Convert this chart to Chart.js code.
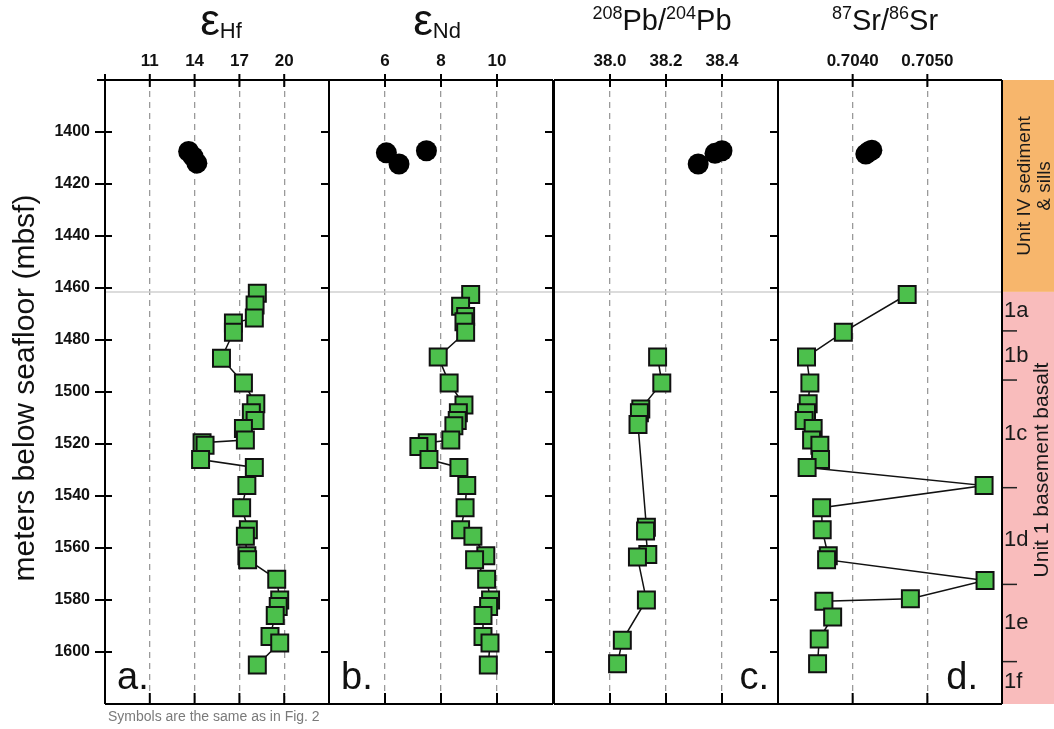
<!DOCTYPE html>
<html>
<head>
<meta charset="utf-8">
<script src="https://cdn.jsdelivr.net/npm/chart.js@4.4.1/dist/chart.umd.min.js"></script>
<style>
  body { margin: 0; background: #fff; }
  #wrap { position: relative; width: 1054px; height: 729px; overflow: hidden; }
  #wrap canvas { position: absolute; left: 0; top: 0; }
</style>
</head>
<body>
<div id="wrap">
  <canvas id="hf" width="1054" height="729"></canvas>
  <canvas id="nd" width="1054" height="729"></canvas>
  <canvas id="pb" width="1054" height="729"></canvas>
  <canvas id="sr" width="1054" height="729"></canvas>
</div>
<script>
// depth axis (mbsf)
const depthMin = 1380, depthMax = 1620;
const depthTicks = [1400, 1420, 1440, 1460, 1480, 1500, 1520, 1540, 1560, 1580, 1600];
const unitBoundary = 1461.5;

// eHf
const hfTicks = [11, 14, 17, 20];
const hfDepth = [1462, 1466.5, 1471.5, 1473.5, 1477, 1487, 1496.5, 1504.5, 1508, 1511, 1514, 1518.5, 1519.5, 1520.5, 1526, 1529, 1536, 1544.5, 1553, 1555.5, 1563, 1564.5, 1572, 1580, 1582.5, 1586, 1594, 1596.5, 1605];
const hfValue = [18.2, 18.05, 18.0, 16.6, 16.6, 15.8, 17.27, 18.1, 17.8, 18.05, 17.27, 17.4, 14.5, 14.7, 14.4, 18.0, 17.5, 17.15, 17.6, 17.4, 17.5, 17.55, 19.5, 19.7, 19.6, 19.4, 19.05, 19.7, 18.2];
const hfSillDepth = [1407.5, 1409.5, 1412];
const hfSillValue = [13.6, 13.9, 14.15];

// eNd
const ndTicks = [6, 8, 10];
const ndDepth = [1462.5, 1467, 1471, 1473, 1477, 1486.5, 1496.5, 1505, 1508, 1511, 1513, 1518.5, 1519.5, 1521, 1526, 1529, 1536, 1544.5, 1553, 1555.5, 1563, 1564.5, 1572, 1580, 1582.5, 1586, 1594, 1596.5, 1605];
const ndValue = [9.06, 8.7, 8.88, 8.82, 8.88, 7.9, 8.29, 8.82, 8.62, 8.58, 8.46, 8.35, 7.51, 7.21, 7.57, 8.64, 8.92, 8.86, 8.7, 9.14, 9.6, 9.2, 9.63, 9.77, 9.7, 9.5, 9.5, 9.75, 9.69];
const ndSillDepth = [1408, 1412.3, 1407.2];
const ndSillValue = [6.05, 6.5, 7.48];

// 208Pb/204Pb
const pbTicks = [38.0, 38.2, 38.4];
const pbTickLabels = ['38.0', '38.2', '38.4'];
const pbDepth = [1486.5, 1496.5, 1506.5, 1508, 1512.5, 1552, 1553.5, 1562.5, 1563.5, 1580, 1595.5, 1604.5];
const pbValue = [38.17, 38.185, 38.11, 38.105, 38.1, 38.13, 38.127, 38.135, 38.098, 38.13, 38.044, 38.027];
const pbSillDepth = [1412.3, 1408.2, 1407.2];
const pbSillValue = [38.315, 38.375, 38.4];

// 87Sr/86Sr
const srTicks = [0.704, 0.705];
const srTickLabels = ['0.7040', '0.7050'];
const srDepth = [1462.5, 1477, 1486.5, 1496.5, 1504.5, 1508, 1511, 1514, 1518.5, 1520.5, 1526, 1529, 1536, 1544.5, 1553, 1563, 1564.5, 1572.5, 1579.5, 1580.5, 1586.5, 1595, 1604.5];
const srValue = [0.70473, 0.703875, 0.703382, 0.703427, 0.703404, 0.703382, 0.70335, 0.703471, 0.70345, 0.703561, 0.70357, 0.70339, 0.70576, 0.703584, 0.703592, 0.703673, 0.703651, 0.705773, 0.704773, 0.703615, 0.703732, 0.703552, 0.70353];
const srSillDepth = [1408.5, 1407.5, 1407];
const srSillValue = [0.704176, 0.70422, 0.704257];

// lithologic units (right strip)
const subunitBounds = [1476.5, 1495.4, 1536.8, 1574, 1603.7];
const subunitLabels = ['1a', '1b', '1c', '1d', '1e', '1f'];
const subunitLabelDepth = [1468.8, 1486, 1516, 1557, 1589, 1611.5];

const FONT = '"Liberation Sans", Arial, Helvetica, sans-serif';
const GREEN = '#4cc04c';
const XAXIS_H = 30, YAXIS_W = 60;

function pts(xs, ys) { return xs.map((d, i) => ({ x: ys[i], y: d })); }

function drawTitle(ctx, cx, base, parts) {
  let w = 0;
  parts.forEach(p => { ctx.font = p.s + 'px ' + FONT; p.w = ctx.measureText(p.t).width; w += p.w; });
  let x = cx - w / 2;
  ctx.fillStyle = '#111';
  ctx.textAlign = 'left';
  ctx.textBaseline = 'alphabetic';
  parts.forEach(p => { ctx.font = p.s + 'px ' + FONT; ctx.fillText(p.t, x, base + p.dy); x += p.w; });
}

function framePlugin(cfg) {
  return {
    id: 'frame',
    beforeDatasetsDraw(chart) {
      const { ctx, chartArea: a, scales: { y } } = chart;
      const gy = y.getPixelForValue(unitBoundary);
      ctx.save();
      ctx.strokeStyle = '#d0d0d0';
      ctx.lineWidth = 1.5;
      ctx.beginPath(); ctx.moveTo(a.left, gy); ctx.lineTo(a.right, gy); ctx.stroke();
      ctx.restore();
    },
    afterDraw(chart) {
      const { ctx, chartArea: a, scales: { x, y } } = chart;
      ctx.save();
      if (cfg.strip) {
        const yb = y.getPixelForValue(unitBoundary);
        ctx.fillStyle = '#f7b66c';
        ctx.fillRect(a.right, a.top, 1054 - a.right, yb - a.top);
        ctx.fillStyle = '#f9bcbc';
        ctx.fillRect(a.right, yb, 1054 - a.right, a.bottom - yb);
        ctx.strokeStyle = '#222';
        ctx.lineWidth = 1.5;
        subunitBounds.forEach(d => {
          const py = y.getPixelForValue(d);
          ctx.beginPath(); ctx.moveTo(a.right, py); ctx.lineTo(a.right + 15, py); ctx.stroke();
        });
        ctx.fillStyle = '#1a1a1a';
        ctx.font = '22px ' + FONT;
        ctx.textAlign = 'left';
        ctx.textBaseline = 'middle';
        subunitLabels.forEach((t, i) => ctx.fillText(t, a.right + 2, y.getPixelForValue(subunitLabelDepth[i])));
        ctx.save();
        ctx.translate(a.right + 32, (a.top + yb) / 2);
        ctx.rotate(-Math.PI / 2);
        ctx.textAlign = 'center';
        ctx.font = '19px ' + FONT;
        ctx.fillText('Unit IV sediment', 0, -9);
        ctx.fillText('& sills', 0, 11);
        ctx.restore();
        ctx.save();
        ctx.translate(a.right + 40, y.getPixelForValue(1530));
        ctx.rotate(-Math.PI / 2);
        ctx.textAlign = 'center';
        ctx.font = '21px ' + FONT;
        ctx.fillText('Unit 1 basement basalt', 0, 0);
        ctx.restore();
      }
      ctx.strokeStyle = '#000';
      ctx.lineWidth = 2;
      ctx.beginPath();
      ctx.moveTo(a.left, a.top - (cfg.first ? 6 : 0)); ctx.lineTo(a.left, a.bottom);
      ctx.moveTo(a.right, a.top); ctx.lineTo(a.right, a.bottom);
      ctx.moveTo(a.left - (cfg.first ? 8 : 0), a.top); ctx.lineTo(a.right, a.top);
      ctx.moveTo(a.left, a.bottom); ctx.lineTo(a.right, a.bottom);
      cfg.ticks.forEach(v => {
        const px = x.getPixelForValue(v);
        ctx.moveTo(px, a.top - 6); ctx.lineTo(px, a.top + 7);
        ctx.moveTo(px, a.bottom - 11); ctx.lineTo(px, a.bottom);
      });
      depthTicks.forEach(d => {
        const py = y.getPixelForValue(d);
        if (cfg.first) { ctx.moveTo(a.left - 10, py); ctx.lineTo(a.left + 7, py); }
        if (!cfg.strip) { ctx.moveTo(a.right - 8, py); ctx.lineTo(a.right, py); }
      });
      ctx.stroke();
      drawTitle(ctx, (a.left + a.right) / 2 + cfg.titleShift, cfg.titleBase, cfg.title);
      ctx.fillStyle = '#111';
      ctx.font = '38px ' + FONT;
      ctx.textBaseline = 'alphabetic';
      if (cfg.letterLeft) { ctx.textAlign = 'left'; ctx.fillText(cfg.letter, a.left + 12, a.bottom - 15); }
      else { ctx.textAlign = 'right'; ctx.fillText(cfg.letter, a.right - cfg.letterPad, a.bottom - 15); }
      if (cfg.first) {
        ctx.save();
        ctx.translate(26, 388);
        ctx.rotate(-Math.PI / 2);
        ctx.textAlign = 'center';
        ctx.textBaseline = 'middle';
        ctx.font = '30px ' + FONT;
        ctx.fillStyle = '#111';
        ctx.fillText('meters below seafloor (mbsf)', 0, 0);
        ctx.restore();
        ctx.fillStyle = '#7a7a7a';
        ctx.font = '14px ' + FONT;
        ctx.textAlign = 'left';
        ctx.fillText('Symbols are the same as in Fig. 2', 108, 721);
      }
      ctx.restore();
    }
  };
}

function makePanel(cfg) {
  const left = cfg.left, right = cfg.left + 224;
  new Chart(document.getElementById(cfg.id), {
    type: 'scatter',
    data: {
      datasets: [
        {
          data: pts(cfg.depth, cfg.value),
          showLine: true,
          borderColor: '#111',
          borderWidth: 1.5,
          pointStyle: 'rect',
          pointRadius: 12,
          pointBackgroundColor: GREEN,
          pointBorderColor: '#111',
          pointBorderWidth: 2
        },
        {
          data: pts(cfg.sillDepth, cfg.sillValue),
          showLine: false,
          pointStyle: 'circle',
          pointRadius: 10.5,
          pointBackgroundColor: '#000',
          pointBorderColor: '#000',
          pointBorderWidth: 0
        }
      ]
    },
    options: {
      responsive: false,
      animation: false,
      devicePixelRatio: 1,
      layout: { autoPadding: false, padding: { left: left - YAXIS_W, right: 1054 - right, top: 80 - XAXIS_H, bottom: 729 - 704 } },
      plugins: { legend: { display: false }, tooltip: { enabled: false } },
      scales: {
        x: {
          type: 'linear',
          position: 'top',
          min: cfg.min,
          max: cfg.max,
          afterBuildTicks: s => { s.ticks = cfg.ticks.map(v => ({ value: v })); },
          afterFit: s => { s.height = XAXIS_H; },
          ticks: {
            autoSkip: false,
            maxRotation: 0,
            padding: 8,
            color: '#111',
            font: { family: FONT, size: 17, weight: 'bold' },
            callback: (v, i) => cfg.labels ? cfg.labels[i] : String(v)
          },
          grid: { color: '#9a9a9a', lineWidth: 1.3, drawTicks: false },
          border: { display: false, dash: [6, 5] }
        },
        y: {
          type: 'linear',
          reverse: true,
          min: depthMin,
          max: depthMax,
          afterBuildTicks: s => { s.ticks = depthTicks.map(v => ({ value: v })); },
          afterFit: s => { s.width = YAXIS_W; },
          ticks: {
            display: !!cfg.first,
            autoSkip: false,
            padding: 15,
            color: '#111',
            font: { family: FONT, size: 16, weight: 'bold' },
            callback: v => String(v)
          },
          grid: { display: false, drawTicks: false },
          border: { display: false }
        }
      }
    },
    plugins: [framePlugin(cfg)]
  });
}

makePanel({
  id: 'hf', left: 105, first: true, min: 8, max: 23, ticks: hfTicks,
  depth: hfDepth, value: hfValue, sillDepth: hfSillDepth, sillValue: hfSillValue,
  title: [{ t: 'ε', s: 44, dy: 0 }, { t: 'Hf', s: 22, dy: 3 }], titleBase: 35, titleShift: 4,
  letter: 'a.', letterLeft: true
});
makePanel({
  id: 'nd', left: 329, min: 4, max: 12, ticks: ndTicks,
  depth: ndDepth, value: ndValue, sillDepth: ndSillDepth, sillValue: ndSillValue,
  title: [{ t: 'ε', s: 44, dy: 0 }, { t: 'Nd', s: 22, dy: 3 }], titleBase: 35, titleShift: -4,
  letter: 'b.', letterLeft: true
});
makePanel({
  id: 'pb', left: 554, min: 37.8, max: 38.6, ticks: pbTicks, labels: pbTickLabels,
  depth: pbDepth, value: pbValue, sillDepth: pbSillDepth, sillValue: pbSillValue,
  title: [{ t: '208', s: 18, dy: -11 }, { t: 'Pb/', s: 29, dy: 0 }, { t: '204', s: 18, dy: -11 }, { t: 'Pb', s: 29, dy: 0 }], titleBase: 30, titleShift: -4,
  letter: 'c.', letterLeft: false, letterPad: 9
});
makePanel({
  id: 'sr', left: 778, strip: true, min: 0.703, max: 0.706, ticks: srTicks, labels: srTickLabels,
  depth: srDepth, value: srValue, sillDepth: srSillDepth, sillValue: srSillValue,
  title: [{ t: '87', s: 18, dy: -11 }, { t: 'Sr/', s: 29, dy: 0 }, { t: '86', s: 18, dy: -11 }, { t: 'Sr', s: 29, dy: 0 }], titleBase: 30, titleShift: -5,
  letter: 'd.', letterLeft: false, letterPad: 24
});
</script>
</body>
</html>
